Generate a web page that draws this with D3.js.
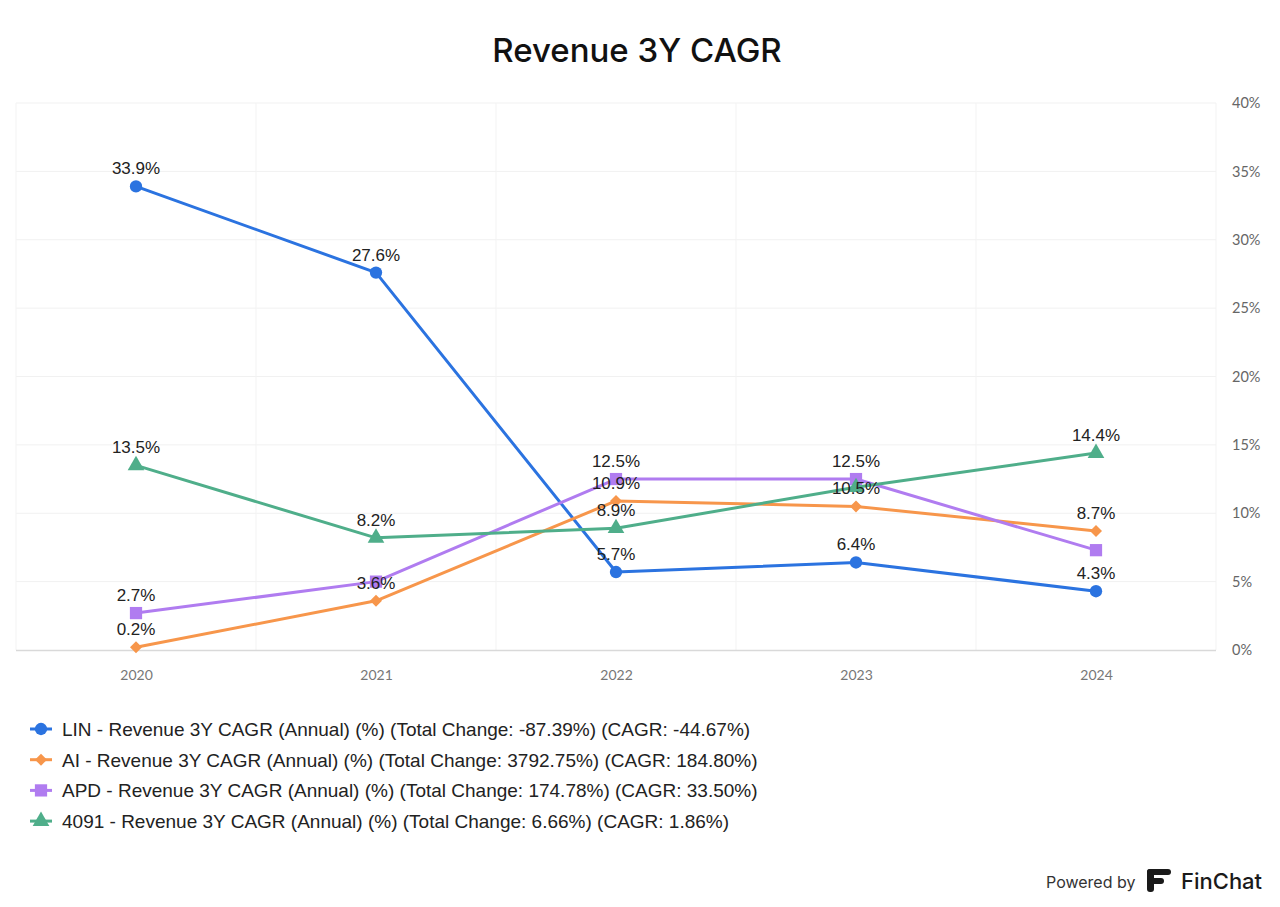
<!DOCTYPE html>
<html><head><meta charset="utf-8">
<script src="https://cdn.jsdelivr.net/npm/d3@7"></script>
<style>body{margin:0;background:#fff;} svg{display:block;}</style>
</head><body>
<script>
const years = ["2020","2021","2022","2023","2024"];
const yTicks = [0,5,10,15,20,25,30,35,40];
const linValues = [33.9, 27.6, 5.7, 6.4, 4.3];
const aiValues = [0.2, 3.6, 10.9, 10.5, 8.7];
const apdValues = [2.7, 5.0, 12.5, 12.5, 7.3];
const jpValues = [13.5, 8.2, 8.9, 11.9, 14.4];
const seriesNames = ["LIN","AI","APD","4091"];
const legendLabels = [
  "LIN - Revenue 3Y CAGR (Annual) (%) (Total Change: -87.39%) (CAGR: -44.67%)",
  "AI - Revenue 3Y CAGR (Annual) (%) (Total Change: 3792.75%) (CAGR: 184.80%)",
  "APD - Revenue 3Y CAGR (Annual) (%) (Total Change: 174.78%) (CAGR: 33.50%)",
  "4091 - Revenue 3Y CAGR (Annual) (%) (Total Change: 6.66%) (CAGR: 1.86%)"
];
// labels hidden due to overlap in the original: [seriesIndex, yearIndex]
const hiddenLabels = [[2,1],[2,4],[3,3]];

const colors = ["#2B73E0","#F7964B","#B07CF0","#4FAE8A"];
const wideDiamond = { draw(ctx, size){ const r = Math.sqrt(size/2); ctx.moveTo(0,-r); ctx.lineTo(r,0); ctx.lineTo(0,r); ctx.lineTo(-r,0); ctx.closePath(); } };
const symbols = [d3.symbolCircle, wideDiamond, d3.symbolSquare, d3.symbolTriangle];
const symSizes = [120, 72, 150, 120];
const allValues = [linValues, aiValues, apdValues, jpValues];

const W = 1280, H = 907;
const svg = d3.select("body").append("svg").attr("width", W).attr("height", H);

const x = d3.scalePoint().domain(years).range([16,1216]).padding(0.5);
const y = d3.scaleLinear().domain([0,40]).range([650,103]);

// title
svg.append("text").attr("x", 637).attr("y", 62).attr("text-anchor","middle")
  .attr("font-family","Inter, 'DejaVu Sans', sans-serif").attr("font-weight",500)
  .attr("font-size", 33).attr("fill","#111").text("Revenue 3Y CAGR");

// horizontal grid
const g = svg.append("g");
g.selectAll(".hg").data(yTicks.filter(t=>t>0)).join("line")
  .attr("x1",16).attr("x2",1216).attr("y1",d=>y(d)).attr("y2",d=>y(d))
  .attr("stroke","#f1f1f1").attr("stroke-width",1);
// vertical grid at band edges
const step = x.step();
const vEdges = d3.range(years.length+1).map(i => 16 + i*step);
g.selectAll(".vg").data(vEdges).join("line")
  .attr("x1",d=>d).attr("x2",d=>d).attr("y1",y(40)).attr("y2",y(0))
  .attr("stroke","#f3f3f3").attr("stroke-width",1);
// baseline
g.append("line").attr("x1",16).attr("x2",1216).attr("y1",y(0)+0.5).attr("y2",y(0)+0.5)
  .attr("stroke","#d9d9d9").attr("stroke-width",1.5);

// y axis right
const yAxis = d3.axisRight(y).tickValues(yTicks).tickFormat(d=>d+"%").tickSize(0).tickPadding(0);
const ya = svg.append("g").attr("transform","translate(1232,0)").call(yAxis);
ya.select(".domain").remove();
ya.selectAll("text").attr("font-family","Lato, 'Open Sans', sans-serif").attr("font-size",14.5).attr("fill","#666");

// x axis
const xAxis = d3.axisBottom(x).tickSize(0).tickPadding(0);
const xa = svg.append("g").attr("transform","translate(0,670)").call(xAxis);
xa.select(".domain").remove();
xa.selectAll("text").attr("font-family","Lato, 'Open Sans', sans-serif").attr("font-size",14).attr("fill","#777");

// lines & markers
const line = d3.line().x((d,i)=>x(years[i])).y(d=>y(d));
allValues.forEach((vals, si) => {
  svg.append("path").datum(vals).attr("d", line).attr("fill","none")
    .attr("stroke", colors[si]).attr("stroke-width", 3).attr("stroke-linejoin","round");
});
allValues.forEach((vals, si) => {
  svg.append("g").selectAll("path").data(vals).join("path")
    .attr("d", d3.symbol().type(symbols[si]).size(symSizes[si]))
    .attr("transform",(d,i)=>`translate(${x(years[i])},${y(d)})`)
    .attr("fill", colors[si]);
});
// data labels
allValues.forEach((vals, si) => {
  svg.append("g").selectAll("text").data(vals.map((v,i)=>({v,i})).filter(d=>!hiddenLabels.some(h=>h[0]===si&&h[1]===d.i)))
    .join("text")
    .attr("x", d=>x(years[d.i])).attr("y", d=>y(d.v)-12)
    .attr("text-anchor","middle")
    .attr("font-family","'Liberation Sans', Arial, sans-serif").attr("font-size",17)
    .attr("fill","#222").text(d=>d.v.toFixed(1)+"%");
});

// legend
const lg = svg.append("g");
legendLabels.forEach((lab, si) => {
  const cy = 729 + si*30.7;
  lg.append("line").attr("x1",30).attr("x2",52).attr("y1",cy).attr("y2",cy)
    .attr("stroke",colors[si]).attr("stroke-width",3);
  lg.append("path").attr("d", d3.symbol().type(symbols[si]).size(symSizes[si]))
    .attr("transform",`translate(41,${cy})`).attr("fill",colors[si]);
  lg.append("text").attr("x",62).attr("y",cy+7)
    .attr("font-family","'Liberation Sans', Arial, sans-serif").attr("font-size",19)
    .attr("fill","#222").text(lab);
});

// powered by
svg.append("text").attr("x",1046).attr("y",888)
  .attr("font-family","Inter, 'Liberation Sans', sans-serif").attr("font-size",16)
  .attr("fill","#333").text("Powered by");
const logo = svg.append("g").attr("transform","translate(1147,869)").attr("fill","#1a1a1a");
logo.append("rect").attr("x",0).attr("y",0).attr("width",24).attr("height",6).attr("rx",3);
logo.append("rect").attr("x",0).attr("y",0).attr("width",7).attr("height",23).attr("rx",3);
logo.append("rect").attr("x",0).attr("y",9).attr("width",17).attr("height",6).attr("rx",3);
svg.append("text").attr("x",1181).attr("y",889)
  .attr("font-family","Inter, 'Liberation Sans', sans-serif").attr("font-size",22).attr("font-weight",500)
  .attr("fill","#1a1a1a").text("FinChat");
</script>
</body></html>
